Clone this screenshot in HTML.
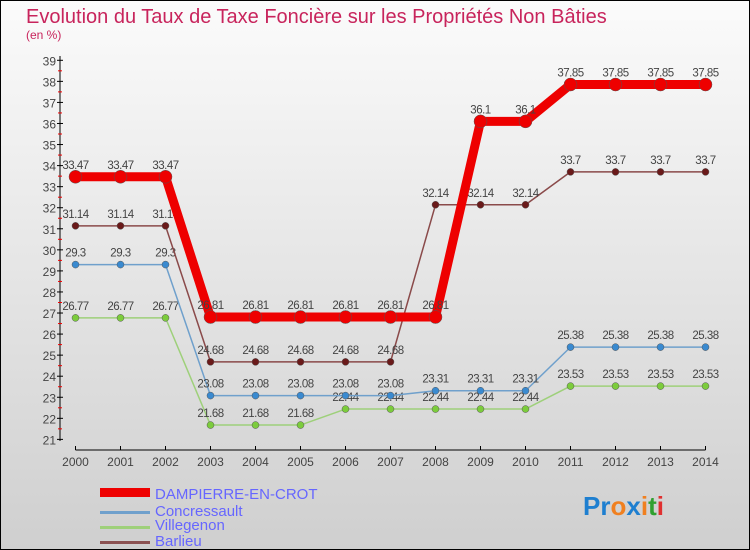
<!DOCTYPE html>
<html><head><meta charset="utf-8"><style>
body{margin:0}
svg{display:block;font-family:"Liberation Sans",sans-serif}
</style></head><body>
<svg id="c" width="750" height="550" xmlns="http://www.w3.org/2000/svg">
<defs><linearGradient id="bg" x1="0" y1="0" x2="0" y2="1"><stop offset="0" stop-color="#fbfbfb"/><stop offset="1" stop-color="#cfcfcf"/></linearGradient></defs>
<rect x="0.5" y="0.5" width="749" height="549" fill="url(#bg)" stroke="#000"/>
<text x="26" y="23" font-size="20" fill="#c8245c">Evolution du Taux de Taxe Foncière sur les Propriétés Non Bâties</text>
<text x="26" y="39" font-size="12" fill="#c8245c">(en %)</text>
<g id="axes"></g><g id="series"></g>
<g>
<rect x="100" y="488" width="50" height="9" fill="#e00"/>
<text x="155" y="499" font-size="15" fill="#6666ff">DAMPIERRE-EN-CROT</text>
<rect x="100" y="511" width="50" height="3" fill="#6fa0cc"/>
<text x="155" y="516" font-size="15" fill="#6666ff">Concressault</text>
<rect x="100" y="526" width="50" height="3" fill="#9ed07a"/>
<text x="155" y="530" font-size="15" fill="#6666ff">Villegenon</text>
<rect x="100" y="541" width="50" height="3" fill="#8a5050"/>
<text x="155" y="546" font-size="15" fill="#6666ff">Barlieu</text>
</g>
<text x="583" y="515" font-size="26" font-weight="bold"><tspan fill="#1e7fd0">Pr</tspan><tspan fill="#f08020">o</tspan><tspan fill="#1e7fd0">x</tspan><tspan fill="#f08020">i</tspan><tspan fill="#30a030">t</tspan><tspan fill="#e03030">i</tspan></text>
</svg>
<script>
const years=["2000","2001","2002","2003","2004","2005","2006","2007","2008","2009","2010","2011","2012","2013","2014"];
const yTicks=[21,22,23,24,25,26,27,28,29,30,31,32,33,34,35,36,37,38,39];
const dampierre=[33.47,33.47,33.47,26.81,26.81,26.81,26.81,26.81,26.81,36.1,36.1,37.85,37.85,37.85,37.85];
const concressault=[29.3,29.3,29.3,23.08,23.08,23.08,23.08,23.08,23.31,23.31,23.31,25.38,25.38,25.38,25.38];
const villegenon=[26.77,26.77,26.77,21.68,21.68,21.68,22.44,22.44,22.44,22.44,22.44,23.53,23.53,23.53,23.53];
const barlieu=[31.14,31.14,31.14,24.68,24.68,24.68,24.68,24.68,32.14,32.14,32.14,33.7,33.7,33.7,33.7];
const NS="http://www.w3.org/2000/svg";
const X=i=>75.5+i*45.0;
const Y=v=>60.3+(39-v)*21.06;
function mk(p,t,a){const e=document.createElementNS(NS,t);for(const k in a)e.setAttribute(k,a[k]);p.appendChild(e);return e;}
const ax=document.getElementById('axes');
let yl=mk(ax,'line',{x1:60,y1:56,x2:60,y2:441,stroke:'#000'});


yTicks.forEach(v=>{
 mk(ax,'line',{x1:57,y1:Y(v),x2:63,y2:Y(v),stroke:'#000'});
 if(v<39) mk(ax,'line',{x1:58,y1:Y(v+0.5),x2:62,y2:Y(v+0.5),stroke:'#e00'});
 const t=mk(ax,'text',{x:56,y:Y(v)+5,'font-size':12,fill:'#444','text-anchor':'end'});
 
 
 t.textContent=v;
});
let xl=mk(ax,'line',{x1:X(0),y1:450,x2:X(14),y2:450,stroke:'#000'});


years.forEach((y,i)=>{
 mk(ax,'line',{x1:X(i),y1:446,x2:X(i),y2:450,stroke:'#000'});
 const t=mk(ax,'text',{x:X(i),y:466,'font-size':12,fill:'#444','text-anchor':'middle'});
 
 
 t.textContent=y;
});
const sg=document.getElementById('series');
function draw(name,data,color,w,r,dot){
 const g=mk(sg,'g',{});
 
 
 const pl=mk(g,'polyline',{points:data.map((v,i)=>X(i)+','+Y(v)).join(' '),fill:'none',stroke:color,'stroke-width':w,'stroke-linejoin':'round'});
 
 
 data.forEach((v,i)=>{
  const c=mk(g,'circle',{cx:X(i),cy:Y(v),r:r,fill:dot,stroke:'#555','stroke-width':0.5});
  
  
  const t=mk(g,'text',{x:X(i),y:Y(v)-8,'font-size':11.5,fill:'#444','text-anchor':'middle','letter-spacing':'-0.5'});
  
  
  t.textContent=v;
 });
}
draw('villegenon',villegenon,'#9ed07a',1.5,3.5,'#7ccc3c');
draw('concressault',concressault,'#6fa0cc',1.5,3.5,'#3a8ad0');
draw('barlieu',barlieu,'#8a4a4a',1.5,3.5,'#6a1a1a');
draw('dampierre',dampierre,'#e00',9,6.5,'#e00');
</script>
</body></html>
